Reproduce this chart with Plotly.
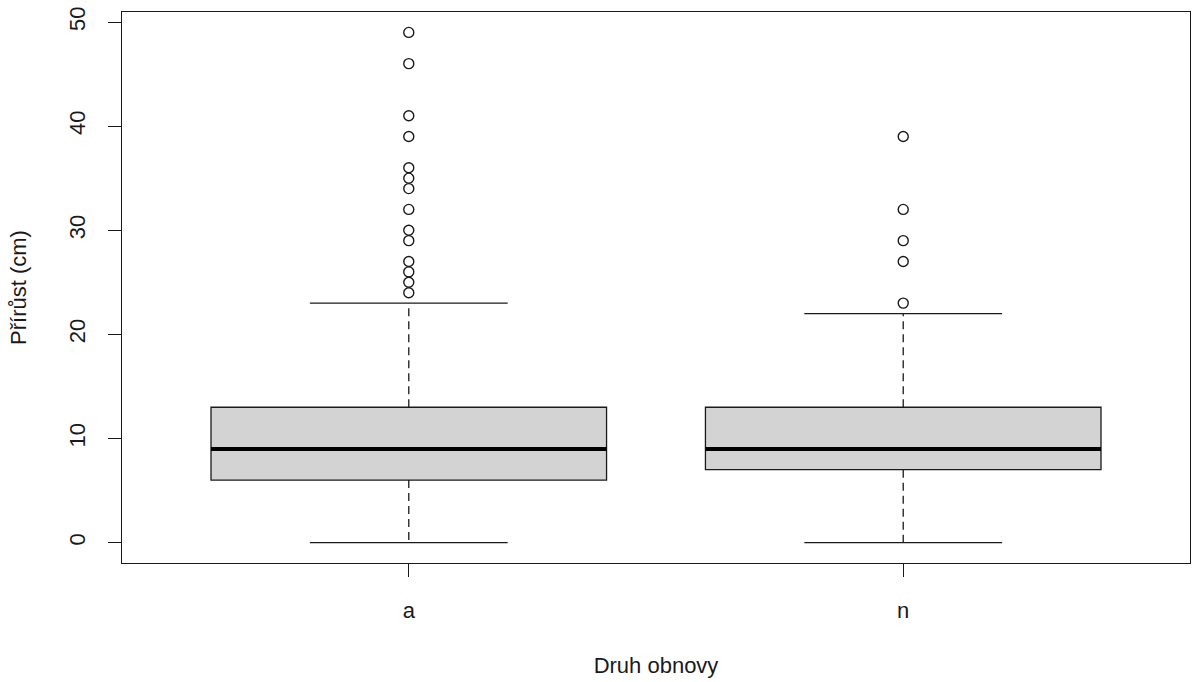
import plotly.graph_objects as go

# Data
categories = ["a", "n"]
q1 = [6, 7]
median = [9, 9]
q3 = [13, 13]
lower_whisker = [0, 0]
upper_whisker = [23, 22]
outliers_a = [49, 46, 41, 39, 36, 35, 34, 32, 30, 29, 27, 26, 25, 24]
outliers_n = [39, 32, 29, 27, 23]
outliers = [outliers_a, outliers_n]

y_ticks = [0, 10, 20, 30, 40, 50]

FONT = "Liberation Sans, Arial, sans-serif"
INK = "#1a1a1a"
FS = 22

fig = go.Figure()
shapes = []
box_half = 0.4
cap_half = 0.2
for i, cat in enumerate(categories):
    pos = i + 1
    shapes.append(dict(type="rect", xref="x", yref="y",
                       x0=pos - box_half, x1=pos + box_half, y0=q1[i], y1=q3[i],
                       fillcolor="#D3D3D3", line=dict(color=INK, width=1.3), layer="above"))
    shapes.append(dict(type="line", xref="x", yref="y",
                       x0=pos - box_half, x1=pos + box_half, y0=median[i], y1=median[i],
                       line=dict(color="black", width=4), layer="above"))
    shapes.append(dict(type="line", xref="x", yref="y",
                       x0=pos, x1=pos, y0=q3[i], y1=upper_whisker[i],
                       line=dict(color=INK, width=1.3, dash="8px,5px"), layer="above"))
    shapes.append(dict(type="line", xref="x", yref="y",
                       x0=pos, x1=pos, y0=q1[i], y1=lower_whisker[i],
                       line=dict(color=INK, width=1.3, dash="8px,5px"), layer="above"))
    for v in (upper_whisker[i], lower_whisker[i]):
        shapes.append(dict(type="line", xref="x", yref="y",
                           x0=pos - cap_half, x1=pos + cap_half, y0=v, y1=v,
                           line=dict(color=INK, width=1.3), layer="above"))
    fig.add_trace(go.Scatter(
        x=[pos] * len(outliers[i]), y=outliers[i], mode="markers",
        marker=dict(symbol="circle-open", size=10, color=INK, line=dict(width=1.4)),
        showlegend=False, hoverinfo="y"))

fig.update_layout(
    width=1192, height=682, autosize=False,
    margin=dict(l=122, r=2, t=12, b=119),
    paper_bgcolor="white", plot_bgcolor="white",
    shapes=shapes,
    font=dict(family=FONT, size=FS, color=INK),
    showlegend=False,
)
fig.update_xaxes(
    range=[0.42, 2.58], tickmode="array", tickvals=[1, 2], ticktext=categories,
    ticks="outside", ticklen=13, tickwidth=1.3, tickcolor=INK,
    showgrid=False, zeroline=False, showline=True, linecolor=INK, linewidth=1.3, mirror=True,
    tickfont=dict(size=FS), ticklabelstandoff=14,
    title=dict(text="Druh obnovy", font=dict(size=FS), standoff=36),
)
fig.update_yaxes(
    range=[-1.96, 50.96], tickmode="array", tickvals=y_ticks,
    ticks="outside", ticklen=13, tickwidth=1.3, tickcolor=INK,
    showgrid=False, zeroline=False, showline=True, linecolor=INK, linewidth=1.3, mirror=True,
    tickangle=-90, tickfont=dict(size=FS), ticklabelstandoff=14,
    title=dict(text="Přírůst (cm)", font=dict(size=FS), standoff=32),
)

fig.write_html(
    "out.html",
    config={"responsive": False, "displayModeBar": False},
    post_script="document.body.style.margin='0';document.body.style.overflow='hidden';",
)
